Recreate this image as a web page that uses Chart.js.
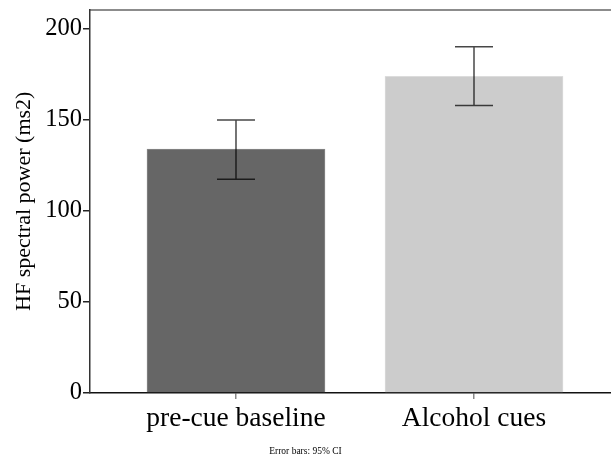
<!DOCTYPE html>
<html>
<head>
<meta charset="utf-8">
<script src="https://cdn.jsdelivr.net/npm/chart.js@4.4.1/dist/chart.umd.min.js"></script>
<style>
  html, body { margin: 0; padding: 0; background: #fff; overflow: hidden; }
  #wrap { width: 611px; height: 458px; position: relative; }
</style>
</head>
<body>
<div id="wrap"><canvas id="c"></canvas></div>
<script>
// ---- data ----
const categories = ["pre-cue baseline", "Alcohol cues"];
const meanValues = [134, 174];
const ciLower = [117.5, 158];
const ciUpper = [150, 190.3];
const yTickValues = [0, 50, 100, 150, 200];
const barColors = ["#666666", "#cccccc"];
const barEdgeColors = ["#8a8a8a", "#dcdcdc"];

const SERIF = "'Liberation Serif', 'Times New Roman', serif";

const errorBarPlugin = {
  id: 'errorBars',
  afterDatasetsDraw(chart) {
    const meta = chart.getDatasetMeta(0);
    const y = chart.scales.y;
    const ctx = chart.ctx;
    ctx.save();
    ctx.strokeStyle = 'rgba(0,0,0,0.72)';
    ctx.lineWidth = 1.5;
    meta.data.forEach((bar, i) => {
      const x = bar.x;
      const yHi = y.getPixelForValue(ciUpper[i]);
      const yLo = y.getPixelForValue(ciLower[i]);
      const half = 19;
      ctx.beginPath();
      ctx.moveTo(x, yHi); ctx.lineTo(x, yLo);
      ctx.moveTo(x - half, yHi); ctx.lineTo(x + half, yHi);
      ctx.moveTo(x - half, yLo); ctx.lineTo(x + half, yLo);
      ctx.stroke();
    });
    ctx.restore();
  }
};

new Chart(document.getElementById('c'), {
  type: 'bar',
  data: {
    datasets: [{
      data: meanValues.map((v, i) => ({ x: i, y: v })),
      backgroundColor: barColors,
      borderColor: barEdgeColors,
      borderWidth: 1,
      barThickness: 178
    }]
  },
  options: {
    responsive: true,
    maintainAspectRatio: false,
    animation: false,
    layout: { padding: { top: 9.5, left: 0, right: 0, bottom: 0 } },
    plugins: {
      legend: { display: false },
      tooltip: { enabled: false },
      title: {
        display: true,
        position: 'bottom',
        text: 'Error bars: 95% CI',
        color: '#000',
        font: { family: SERIF, size: 9.5, weight: 'normal' },
        padding: { top: 0, bottom: 1 }
      }
    },
    scales: {
      x: {
        type: 'linear',
        position: 'bottom',
        offset: false,
        min: -0.6134,
        max: 1.5756,
        afterBuildTicks(scale) { scale.ticks = categories.map((c, i) => ({ value: i })); },
        afterFit(scale) { scale.height = 52.6; },
        ticks: {
          color: '#000',
          padding: 3,
          maxRotation: 0,
          autoSkip: false,
          font: { family: SERIF, size: 27.5 },
          callback: (v) => categories[Math.round(v)]
        },
        grid: { display: true, offset: false, drawOnChartArea: false, tickLength: 6, color: '#888', lineWidth: 1.5 },
        border: { display: true, color: '#111', width: 1.5 }
      },
      x2: {
        type: 'linear',
        position: 'top',
        offset: false,
        afterFit(scale) { scale.height = 0; },
        ticks: { display: false },
        grid: { display: false, drawTicks: false },
        border: { display: true, color: '#8c8c8c', width: 2 }
      },
      y: {
        type: 'linear',
        min: 0,
        max: 210.7,
        afterBuildTicks(scale) { scale.ticks = yTickValues.map(v => ({ value: v })); },
        afterFit(scale) { scale.width = 90; },
        ticks: {
          color: '#000',
          padding: 1,
          font: { family: SERIF, size: 24.5, lineHeight: 0.7 }
        },
        grid: { display: true, drawOnChartArea: false, tickLength: 7, color: '#222', lineWidth: 1.5 },
        border: { display: true, color: '#333', width: 1.5 },
        title: {
          display: true,
          text: 'HF spectral power (ms2)',
          color: '#000',
          font: { family: SERIF, size: 22 },
          padding: { top: 11, bottom: 0 }
        }
      }
    }
  },
  plugins: [errorBarPlugin]
});
</script>
</body>
</html>
